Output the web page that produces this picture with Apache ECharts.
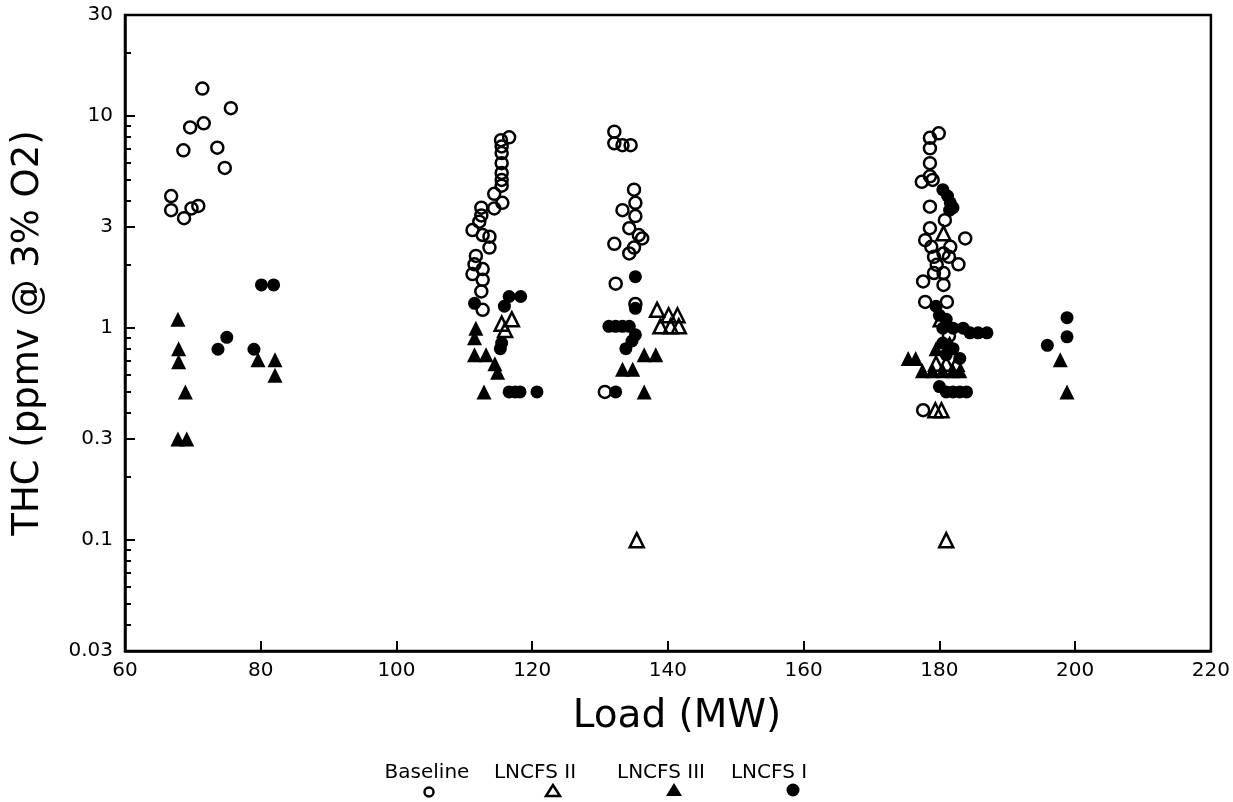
<!DOCTYPE html>
<html>
<head>
<meta charset="utf-8">
<script src="https://cdn.jsdelivr.net/npm/echarts@6/dist/echarts.min.js"></script>
<style>html,body{margin:0;padding:0;background:#fff;}#c{width:1233px;height:802px;}</style>
</head>
<body>
<div id="c"></div>
<script>
// ---- data (Load MW, THC ppmv) ----
const baseline = [
  [71.4,13.5],[75.6,10.9],[69.6,8.85],[71.6,9.25],[68.6,6.9],[73.6,7.1],[74.7,5.7],[66.8,4.2],[66.8,3.6],[68.7,3.3],[69.8,3.67],[70.8,3.77],
  [115.4,7.7],[116.6,7.95],[115.5,7.2],[115.5,6.7],[115.5,6.0],[115.5,5.4],[115.5,5.0],[115.5,4.7],[114.4,4.3],[115.6,3.9],[112.5,3.7],[114.4,3.67],[112.5,3.4],[112.2,3.18],[111.2,2.9],[112.7,2.75],[113.7,2.7],[113.7,2.4],[111.7,2.19],[111.5,2.0],[112.7,1.9],[111.2,1.8],[112.7,1.69],[112.5,1.49],[112.7,1.22],
  [132.1,8.45],[132.1,7.45],[133.3,7.3],[134.5,7.3],[135.0,4.5],[135.2,3.9],[133.3,3.6],[135.2,3.38],[134.3,2.96],[135.7,2.75],[132.1,2.5],[134.3,2.25],[136.2,2.65],[135.0,2.4],[132.3,1.62],[135.2,1.3],[130.7,0.5],
  [179.9,8.3],[178.6,7.9],[178.6,7.05],[178.6,6.0],[178.6,5.2],[177.4,4.9],[179.0,5.0],[178.6,3.74],[180.8,3.23],[178.6,2.96],[183.8,2.65],[177.9,2.6],[178.8,2.42],[181.6,2.42],[180.6,2.25],[179.2,2.17],[181.4,2.17],[179.6,1.99],[182.8,2.0],[179.2,1.82],[180.6,1.82],[177.6,1.66],[180.6,1.6],[177.9,1.33],[181.1,1.33],[181.4,0.92],[177.6,0.41]
];
const lncfs2 = [
  [115.5,1.05],[117.0,1.1],[116.0,0.98],
  [138.4,1.22],[140.1,1.15],[141.4,1.15],[138.9,1.02],[140.4,1.02],[141.6,1.02],[135.4,0.1],
  [180.6,2.8],[179.4,0.41],[180.3,0.41],[181.0,0.1],[179.5,0.68],[181.0,0.68],[182.5,0.68],[180.2,1.1]
];
const lncfs3 = [
  [67.8,1.10],[67.9,0.80],[67.9,0.695],[68.9,0.50],[67.8,0.30],[69.1,0.30],
  [79.6,0.71],[82.1,0.71],[82.1,0.60],
  [111.7,1.0],[111.5,0.9],[111.5,0.75],[113.2,0.75],[114.5,0.68],[114.9,0.62],[112.9,0.5],
  [136.5,0.75],[138.2,0.75],[133.3,0.64],[134.8,0.64],[136.5,0.5],
  [175.4,0.72],[176.5,0.72],[177.5,0.63],[179.0,0.63],[180.5,0.63],[182.0,0.63],[183.0,0.63],[179.5,0.8],[181.5,0.85],
  [197.8,0.71],[198.8,0.5]
];
const lncfs1 = [
  [75.0,0.905],[73.7,0.795],
  [79.0,0.795],[80.1,1.6],[81.9,1.6],
  [111.5,1.31],[116.6,1.41],[118.3,1.41],[115.9,1.27],[115.5,0.85],[115.3,0.8],[116.6,0.5],[117.5,0.5],[118.2,0.5],[120.7,0.5],
  [135.2,1.75],[135.2,1.24],[131.3,1.02],[132.3,1.02],[133.3,1.02],[134.3,1.02],[135.2,0.93],[134.7,0.87],[133.8,0.80],[132.3,0.5],
  [180.5,4.5],[181.2,4.2],[181.6,3.9],[182.0,3.7],[181.5,3.6],
  [179.5,1.27],[180.0,1.15],[181.0,1.1],[180.5,1.0],[182.0,1.0],[183.5,1.0],[184.5,0.95],[185.7,0.95],[187.0,0.95],[180.5,0.85],[182.0,0.8],[181.0,0.75],[183.0,0.72],[180.0,0.53],[181.0,0.5],[182.0,0.5],[183.0,0.5],[184.0,0.5],
  [198.8,1.12],[198.8,0.91],[195.9,0.83]
];
const yMajorTicks = [0.03,0.1,0.3,1,3,10,30];
const yMinorTicks = [0.04,0.05,0.06,0.07,0.08,0.09,0.2,0.4,0.5,0.6,0.7,0.8,0.9,2,4,5,6,7,8,9,20];
const seriesNames = ['Baseline','LNCFS II','LNCFS III','LNCFS I'];

const FONT = '"DejaVu Sans", "Liberation Sans", Arial, sans-serif';
const chart = echarts.init(document.getElementById('c'), null, {renderer:'canvas'});

const legendX = [429, 553, 674, 793];
const legendTextX = [427, 535, 661, 769];
const graphics = [];
seriesNames.forEach((n,i)=>{
  graphics.push({type:'text', x: legendTextX[i], y: 773,
    style:{text:n, font:'20px '+FONT, fill:'#000', textAlign:'center', textVerticalAlign:'middle'}});
});
graphics.push({type:'circle', shape:{cx:legendX[0], cy:792, r:4.5}, style:{fill:'none', stroke:'#000', lineWidth:2.5}});
graphics.push({type:'polygon', shape:{points:[[legendX[1],785],[legendX[1]-7,796],[legendX[1]+7,796]]}, style:{fill:'#fff', stroke:'#000', lineWidth:2.5}});
graphics.push({type:'polygon', shape:{points:[[legendX[2],783],[legendX[2]-8,796],[legendX[2]+8,796]]}, style:{fill:'#000'}});
graphics.push({type:'circle', shape:{cx:legendX[3], cy:790, r:6.5}, style:{fill:'#000'}});

const mk = (name, data, symbol, size, filled) => ({
  name, type:'scatter', data, symbol, symbolSize: size,
  itemStyle: filled ? {color:'#000', borderWidth:0, opacity:1} : {color:'rgba(255,255,255,0)', borderColor:'#000', borderWidth:2.5, opacity:1},
  emphasis:{disabled:true}
});

chart.setOption({
  animation:false,
  backgroundColor:'#fff',
  textStyle:{fontFamily:FONT},
  grid:{left:125, right:20, top:15, bottom:151, show:true, borderColor:'#000', borderWidth:2.5, backgroundColor:'transparent'},
  xAxis:{type:'value', min:60, max:220, interval:20,
    name:'Load (MW)', nameLocation:'middle', nameGap:46,
    nameTextStyle:{fontSize:39, color:'#000', fontFamily:FONT, padding:[0,0,0,18]},
    axisLine:{show:true, lineStyle:{color:'#000', width:2.5}},
    axisTick:{show:true, inside:true, length:10, lineStyle:{color:'#000', width:2}},
    axisLabel:{fontSize:20, color:'#000', margin:10, fontFamily:FONT},
    splitLine:{show:false}},
  yAxis:[
    {type:'log', logBase:10, min:0.03, max:30,
      name:'THC (ppmv @ 3% O2)', nameLocation:'middle', nameGap:78,
      nameTextStyle:{fontSize:37, color:'#000', fontFamily:FONT},
      axisLine:{show:true, lineStyle:{color:'#000', width:2.5}},
      axisTick:{show:true, inside:true, length:10, customValues:yMajorTicks, lineStyle:{color:'#000', width:2}},
      axisLabel:{fontSize:20, color:'#000', margin:12, customValues:yMajorTicks, fontFamily:FONT,
        formatter:v=>String(+v.toPrecision(3))},
      splitLine:{show:false}, minorTick:{show:false}},
    {type:'log', logBase:10, min:0.03, max:30, position:'left', offset:0,
      axisLine:{show:false},
      axisTick:{show:true, inside:true, length:6, customValues:yMinorTicks, lineStyle:{color:'#000', width:2}},
      axisLabel:{show:false}, splitLine:{show:false}}
  ],
  graphic: graphics,
  series:[
    mk('Baseline', baseline, 'circle', 12, false),
    mk('LNCFS II', lncfs2, 'triangle', 14, false),
    mk('LNCFS III', lncfs3, 'triangle', 15, true),
    mk('LNCFS I', lncfs1, 'circle', 13, true)
  ]
});
</script>
</body>
</html>
